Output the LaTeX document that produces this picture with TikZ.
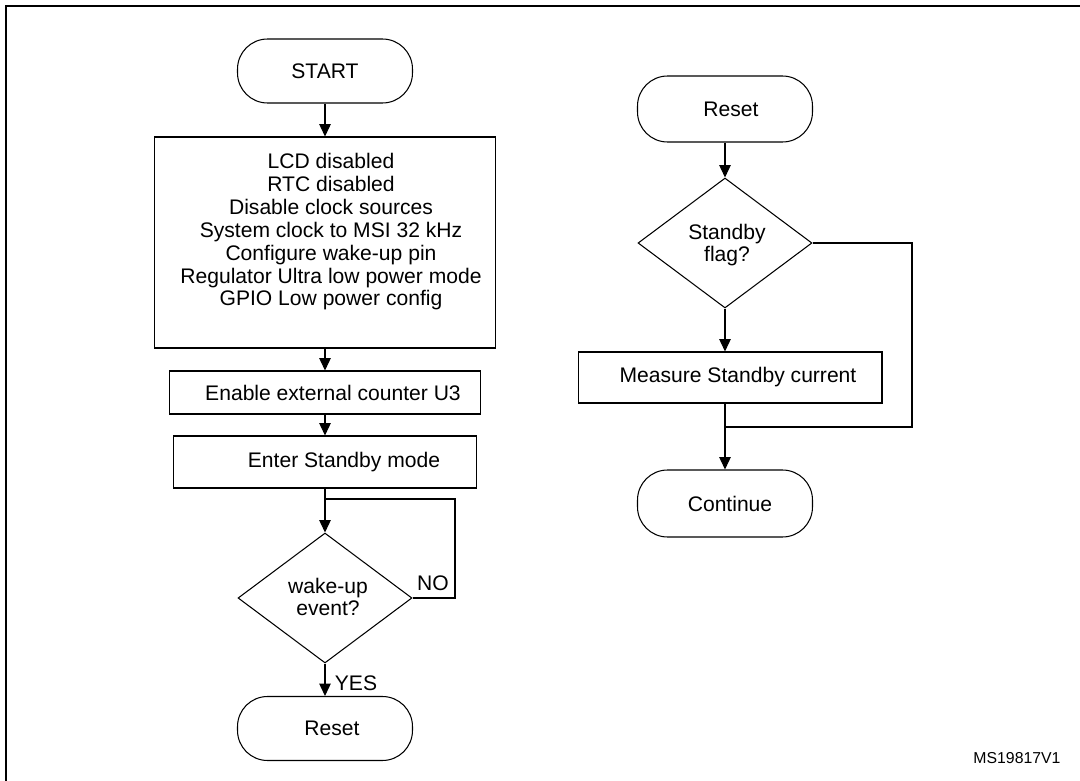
\documentclass[tikz,border=0pt]{standalone}
\usepackage{fontspec}
\setmainfont{Liberation Sans}
\usetikzlibrary{arrows.meta,positioning,shapes.geometric}

\begin{document}
\begin{tikzpicture}[x=0.02cm, y=-0.02cm, line width=0.6pt,
                    >={Triangle[length=7pt,width=6.5pt]},
                    every node/.style={font=\fontsize{12}{13}\selectfont},
                    term/.style={draw, rectangle, rounded corners=0.6cm,
                                 minimum width=3.5cm, minimum height=1.28cm},
                    proc/.style={draw, rectangle},
                    decision/.style={draw, diamond, inner sep=0pt,
                                     minimum width=3.48cm, minimum height=2.6cm},
                    txt/.style={align=center, inner sep=0pt}]
    %\draw[help lines] (0,0) grid (1080,781);
   \useasboundingbox (0,0) rectangle (1080,781);
   \draw[line width=1.15pt] (6,800) -- (6,6) -- (1100,6);

   % left flow
   \node[term] (start) at (325,71) {START};
   \node[proc, minimum width=6.84cm, minimum height=4.22cm] (setup) at (325,242.5) {};
   \node[txt] (setup-txt) at (331,232) {LCD disabled\\ RTC disabled\\ Disable clock sources\\
        System clock to MSI 32 kHz\\ Configure wake-up pin\\
        Regulator Ultra low power mode\\ GPIO Low power config};
   \node[proc, minimum width=6.24cm, minimum height=0.86cm] (enable) at (325,392.5) {};
   \node[txt] (enable-txt) at (333,392.5) {Enable external counter U3};
   \node[proc, minimum width=6.08cm, minimum height=1.04cm] (enter) at (325,462) {};
   \node[txt] (enter-txt) at (344,462) {Enter Standby mode};
   \node[decision] (wake) at (325,598) {};
   \node[txt] (wake-txt) at (328,597) {wake-up\\ event?};
   \node[term] (reset) at (325,728.5) {};
   \node[txt] (reset-txt) at (332,728.5) {Reset};
   \coordinate (noloop) at (455,499);
   \coordinate (nojoin) at (325,499);

   % right flow
   \node[term, minimum height=1.32cm] (reset2) at (725,109) {};
   \node[txt] (reset2-txt) at (731,109) {Reset};
   \node[decision] (flag) at (725,243) {};
   \node[txt] (flag-txt) at (727,245) {Standby\\ flag?};
   \node[proc, minimum width=6.08cm, minimum height=1.02cm] (measure) at (730,377.5) {};
   \node[txt] (measure-txt) at (738,377.5) {Measure Standby current};
   \node[term, minimum height=1.34cm] (cont) at (725,503.5) {};
   \node[txt] (cont-txt) at (730,503.5) {Continue};
   \coordinate (skip) at (912,427);
   \coordinate (skipjoin) at (725,427);

   \node[txt, font=\fontsize{9}{10}\selectfont] (ref) at (1017,758) {MS19817V1};

   % Define transitions
   \path[->]
    (start)   edge (setup)
    (setup)   edge (enable)
    (enable)  edge (enter)
    (enter)   edge (wake)
    (wake)    edge node [right, xshift=2pt, yshift=-2pt] (yes) {YES} (reset)
    (reset2)  edge (flag);
   \draw[->] (flag.south) -- (flag.south |- measure.north);
   \draw[->] (measure.south -| skipjoin) -- (cont.north -| skipjoin);
   \draw (wake.east) -| (noloop) -- (nojoin);
   \draw (flag.east) -| (skip) -- (skipjoin);
   \node[txt] (no) at (433,583) {NO};

\end{tikzpicture}
\end{document}
